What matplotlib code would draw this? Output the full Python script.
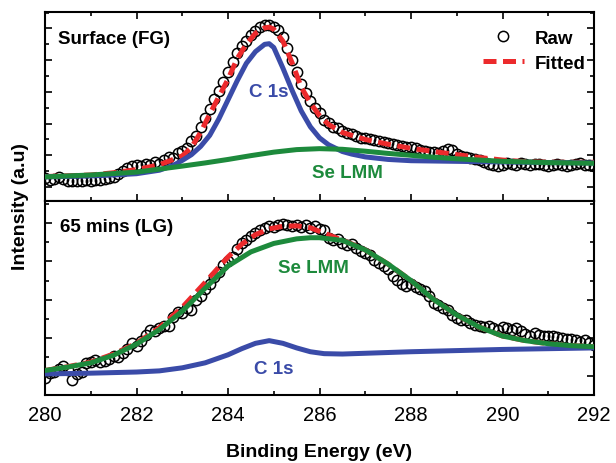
import numpy as np
import matplotlib
matplotlib.use("Agg")
import matplotlib.pyplot as plt
from matplotlib.lines import Line2D
from matplotlib.ticker import MultipleLocator

plt.rcParams["font.family"] = ["Liberation Sans", "DejaVu Sans"]

# ---------------- data ----------------
# Surface (FG) panel
raw_fg = [
    0.30, 0.22, 0.26, 0.33, 0.24, 0.20, 0.18, 0.20, 0.19, 0.21,
    0.20, 0.22, 0.21, 0.24, 0.27, 0.33, 0.40, 0.52, 0.60, 0.66,
    0.71, 0.65, 0.74, 0.70, 0.78, 0.72, 0.86, 0.95, 0.92, 1.08,
    1.15, 1.22, 1.45, 1.62, 1.90, 2.18, 2.45, 2.78, 3.02, 3.30,
    3.62, 3.95, 4.22, 4.45, 4.62, 4.80, 4.92, 5.05, 5.10, 5.12,
    5.06, 4.95, 4.72, 4.40, 4.02, 3.62, 3.25, 2.95, 2.70, 2.50,
    2.32, 2.12, 2.02, 1.90, 1.85, 1.76, 1.70, 1.66, 1.60, 1.56,
    1.55, 1.50, 1.48, 1.44, 1.42, 1.40, 1.35, 1.34, 1.30, 1.27,
    1.26, 1.22, 1.17, 1.15, 1.12, 1.10, 1.08, 1.14, 1.20, 1.16,
    1.05, 0.98, 0.95, 0.90, 0.88, 0.84, 0.80, 0.72, 0.68, 0.65,
    0.70, 0.76, 0.72, 0.68, 0.75, 0.72, 0.69, 0.72, 0.74, 0.70,
    0.66, 0.68, 0.73, 0.70, 0.66, 0.69, 0.72, 0.75, 0.71, 0.68,
    0.66,
]
fit_fg_e = [280.0, 281.0, 281.5, 282.0, 282.5, 282.8, 283.0, 283.2, 283.4, 283.6,
            283.8, 284.0, 284.2, 284.4, 284.6, 284.8, 284.9, 285.0, 285.2, 285.4,
            285.6, 285.8, 286.0, 286.2, 286.5, 287.0, 287.5, 288.0, 288.5, 289.0,
            289.5, 290.0, 290.5, 291.0, 292.0]
fit_fg = [0.33, 0.38, 0.45, 0.55, 0.70, 0.87, 0.98, 1.25, 1.72, 2.30,
          2.85, 3.40, 4.05, 4.50, 4.85, 5.02, 5.04, 4.98, 4.60, 3.92,
          3.15, 2.65, 2.25, 1.97, 1.72, 1.50, 1.35, 1.22, 1.12, 1.02,
          0.93, 0.85, 0.80, 0.78, 0.78]
c1s_fg_e = [280.0, 281.0, 281.5, 282.0, 282.5, 282.8, 283.0, 283.2, 283.4, 283.6,
            283.8, 284.0, 284.2, 284.4, 284.6, 284.8, 284.9, 285.0, 285.2, 285.4,
            285.6, 285.8, 286.0, 286.2, 286.5, 286.7, 287.0, 287.5, 288.0, 289.0,
            290.0, 291.0, 292.0]
c1s_fg = [0.32, 0.35, 0.38, 0.42, 0.53, 0.68, 0.84, 1.02, 1.28, 1.63,
          2.15, 2.75, 3.35, 3.90, 4.27, 4.50, 4.52, 4.40, 3.75, 3.05,
          2.40, 1.90, 1.55, 1.33, 1.12, 1.04, 0.95, 0.87, 0.83, 0.81,
          0.79, 0.77, 0.76]
se_fg_e = [280.0, 281.0, 282.0, 283.0, 283.5, 284.0, 284.5, 285.0, 285.5, 286.0,
           286.5, 287.0, 287.5, 288.0, 288.5, 289.0, 289.5, 290.0, 290.5, 291.0,
           291.5, 292.0]
se_fg = [0.32, 0.38, 0.47, 0.66, 0.76, 0.87, 0.99, 1.10, 1.18, 1.21,
         1.19, 1.13, 1.06, 1.00, 0.94, 0.89, 0.85, 0.81, 0.79, 0.77,
         0.76, 0.75]

# 65 mins (LG) panel
raw_lg = [
    -0.05, 0.08, 0.12, 0.20, 0.28, 0.15, -0.10, 0.05, 0.12, 0.35,
    0.38, 0.42, 0.36, 0.40, 0.46, 0.52, 0.50, 0.62, 0.72, 0.88,
    0.80, 0.92, 1.08, 1.20, 1.18, 1.26, 1.32, 1.30, 1.55, 1.68,
    1.66, 1.78, 1.74, 1.98, 2.10, 2.28, 2.40, 2.60, 2.72, 2.90,
    3.00, 3.12, 3.32, 3.48, 3.56, 3.66, 3.74, 3.82, 3.88, 3.92,
    3.90, 3.95, 3.98, 3.96, 3.93, 3.96, 3.90, 3.94, 3.88, 3.92,
    3.86, 3.82, 3.62, 3.55, 3.58, 3.48, 3.42, 3.45, 3.35, 3.28,
    3.22, 3.18, 3.05, 2.95, 2.88, 2.80, 2.62, 2.52, 2.40, 2.36,
    2.42, 2.32, 2.28, 2.22, 2.10, 1.92, 1.85, 1.78, 1.72, 1.60,
    1.52, 1.48, 1.46, 1.40, 1.35, 1.30, 1.28, 1.32, 1.26, 1.22,
    1.28, 1.25, 1.22, 1.26, 1.18, 1.10, 1.05, 1.12, 1.08, 1.05,
    1.06, 1.04, 1.02, 1.00, 0.98, 0.96, 0.95, 0.90, 0.94, 0.88,
    0.82,
]
fit_lg_e = [280.0, 280.5, 281.0, 281.5, 282.0, 282.5, 283.0, 283.5, 284.0, 284.3,
            284.6, 284.9, 285.2, 285.5, 285.8, 286.1, 286.4, 286.7, 287.0, 287.5,
            288.0, 288.5, 289.0, 289.5, 290.0, 290.5, 291.0, 291.5, 292.0]
fit_lg = [0.15, 0.25, 0.37, 0.58, 0.86, 1.27, 1.80, 2.45, 3.12, 3.45,
          3.70, 3.85, 3.92, 3.93, 3.88, 3.74, 3.60, 3.46, 3.30, 2.93,
          2.50, 2.00, 1.60, 1.28, 1.05, 0.93, 0.85, 0.80, 0.77]
c1s_lg_e = [280.0, 281.0, 282.0, 282.5, 283.0, 283.5, 284.0, 284.3, 284.6, 284.9,
            285.2, 285.5, 285.8, 286.1, 286.5, 287.0, 288.0, 289.0, 290.0, 291.0,
            292.0]
c1s_lg = [0.06, 0.08, 0.11, 0.14, 0.22, 0.35, 0.56, 0.72, 0.86, 0.93,
          0.86, 0.74, 0.64, 0.59, 0.58, 0.60, 0.64, 0.67, 0.70, 0.72,
          0.74]
se_lg_e = [280.0, 280.5, 281.0, 281.5, 282.0, 282.5, 283.0, 283.5, 284.0, 284.5,
           285.0, 285.5, 285.8, 286.0, 286.5, 287.0, 287.5, 288.0, 288.5, 289.0,
           289.5, 290.0, 290.5, 291.0, 291.5, 292.0]
se_lg = [0.15, 0.24, 0.35, 0.55, 0.84, 1.22, 1.70, 2.30, 2.88, 3.25,
         3.47, 3.59, 3.62, 3.62, 3.55, 3.30, 2.93, 2.50, 2.00, 1.60,
         1.28, 1.05, 0.93, 0.85, 0.80, 0.77]

x_ticks = [280, 282, 284, 286, 288, 290, 292]

# ---------------- style ----------------
BLUE = "#3a4ba8"
GREEN = "#1d8a3c"
RED = "#ec2a2c"
LW = 3.6
TXT = 13.5

fig = plt.figure(figsize=(6.16, 4.64), dpi=100)
ax_top = fig.add_axes([0.0731, 0.5647, 0.8912, 0.4073])
ax_bot = fig.add_axes([0.0731, 0.1466, 0.8912, 0.4181])


def draw_panel(ax, raw, fit_e, fit, c1s_e, c1s, se_e, se):
    e_raw = np.linspace(280, 292, len(raw))
    ax.plot(e_raw, raw, linestyle="none", marker="o", markersize=7.4,
            markerfacecolor="none", markeredgecolor="black",
            markeredgewidth=1.1, zorder=2)
    ax.plot(fit_e, fit, color=RED, lw=LW, dashes=(2.6, 1.3),
            solid_capstyle="butt", zorder=3)
    ax.plot(c1s_e, c1s, color=BLUE, lw=LW, zorder=4)
    ax.plot(se_e, se, color=GREEN, lw=LW, zorder=5)
    ax.set_xlim(280, 292)
    ax.xaxis.set_major_locator(MultipleLocator(2))
    ax.xaxis.set_minor_locator(MultipleLocator(1))
    ax.yaxis.set_major_locator(MultipleLocator(1))
    ax.yaxis.set_minor_locator(MultipleLocator(0.5))
    ax.tick_params(which="both", direction="in", width=1.2, left=True,
                   right=True, labelleft=False)
    ax.tick_params(which="major", length=5)
    ax.tick_params(which="minor", length=3)
    for sp in ax.spines.values():
        sp.set_linewidth(1.5)


draw_panel(ax_top, raw_fg, fit_fg_e, fit_fg, c1s_fg_e, c1s_fg, se_fg_e, se_fg)
draw_panel(ax_bot, raw_lg, fit_lg_e, fit_lg, c1s_lg_e, c1s_lg, se_lg_e, se_lg)

ax_top.set_ylim(-0.44, 5.52)
ax_bot.set_ylim(-0.49, 4.58)
ax_top.tick_params(which="both", top=True, bottom=True, labelbottom=False)
ax_bot.tick_params(which="both", top=False, bottom=True)
ax_bot.set_xticks(x_ticks)
ax_bot.set_xticklabels([str(t) for t in x_ticks], fontsize=14.5)
ax_bot.tick_params(axis="x", pad=7)

ax_bot.set_xlabel("Binding Energy (eV)", fontsize=14, fontweight="bold",
                  labelpad=14)
fig.text(0.034, 1 - 206 / 464, "Intensity (a.u)", rotation=90, fontsize=14,
         fontweight="bold", ha="center", va="center")

# panel titles and peak labels
ax_top.text(0.024, 0.86, "Surface (FG)", transform=ax_top.transAxes,
            fontsize=TXT, fontweight="bold", va="center", ha="left")
ax_bot.text(0.027, 0.87, "65 mins (LG)", transform=ax_bot.transAxes,
            fontsize=TXT, fontweight="bold", va="center", ha="left")
ax_top.text(284.9, 3.0, "C 1s", color=BLUE, fontsize=TXT, fontweight="bold",
            ha="center", va="center")
ax_top.text(286.6, 0.47, "Se LMM", color=GREEN, fontsize=TXT,
            fontweight="bold", ha="center", va="center")
ax_bot.text(285.86, 2.85, "Se LMM", color=GREEN, fontsize=TXT,
            fontweight="bold", ha="center", va="center")
ax_bot.text(285.0, 0.19, "C 1s", color=BLUE, fontsize=TXT, fontweight="bold",
            ha="center", va="center")

handles = [
    Line2D([], [], linestyle="none", marker="o", markersize=7.4,
           markerfacecolor="none", markeredgecolor="black",
           markeredgewidth=1.1),
    Line2D([], [], color=RED, lw=LW, dashes=(2.6, 1.3)),
]
leg = ax_top.legend(handles, ["Raw", "Fitted"], loc="upper right",
                    bbox_to_anchor=(1.008, 0.975), frameon=False,
                    prop={"weight": "bold", "size": TXT},
                    handlelength=2.2, handletextpad=0.55, labelspacing=0.4,
                    borderaxespad=0.3)

fig.savefig("out.png", dpi=100)
